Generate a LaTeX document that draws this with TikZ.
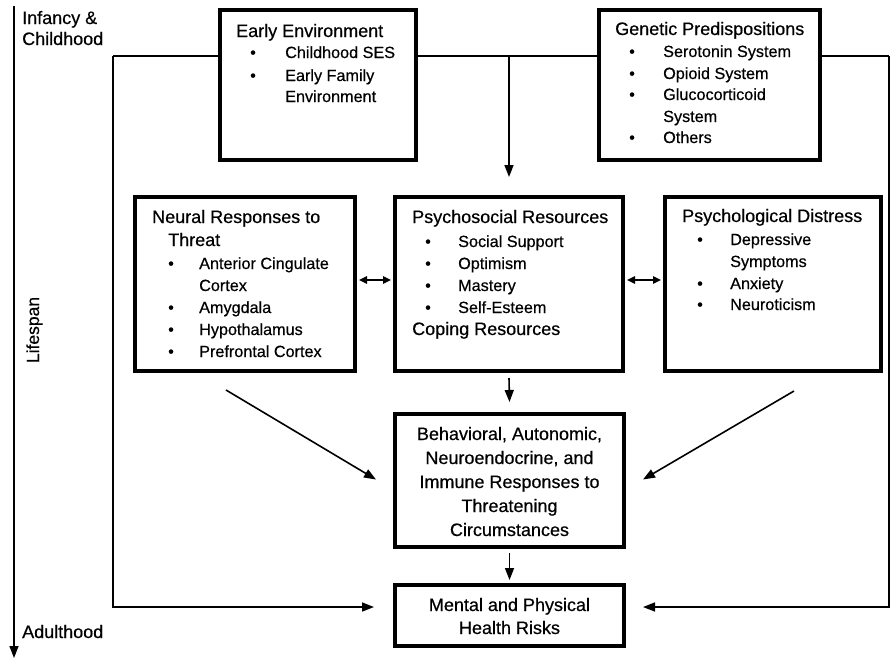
\documentclass[tikz,border=0pt]{standalone}
\usepackage{fontspec}
\setmainfont{Liberation Sans}[FakeBold=0.5]
\usetikzlibrary{arrows.meta}
\begin{document}
\begin{tikzpicture}[x=1pt,y=-1pt,
 box/.style={draw, line width=3.8pt, inner sep=0pt, outer sep=0pt, anchor=north west},
 hd/.style={inner sep=0pt, anchor=base west, font=\fontsize{18}{22}\selectfont},
 it/.style={inner sep=0pt, anchor=base west, font=\fontsize{16.2}{22}\selectfont},
 ct/.style={inner sep=0pt, anchor=base, font=\fontsize{18}{24}\selectfont},
 conn/.style={line width=1.6pt},
 arr/.style={conn, -{Triangle[length=12pt,width=9pt]}},
 darr/.style={conn, {Triangle[length=8pt,width=7.5pt]}-{Triangle[length=8pt,width=7.5pt]}}]
\useasboundingbox (0,0) rectangle (890,659);

% boxes
\node[box, minimum width=196pt, minimum height=150pt] (ee) at (220,10) {};
\node[box, minimum width=221pt, minimum height=150pt] (gp) at (599,10) {};
\node[box, minimum width=220pt, minimum height=174pt] (nr) at (135,197) {};
\node[box, minimum width=228pt, minimum height=174pt] (ps) at (395,197) {};
\node[box, minimum width=216pt, minimum height=174pt] (pd) at (665,197) {};
\node[box, minimum width=229pt, minimum height=133pt] (br) at (395,414) {};
\node[box, minimum width=229pt, minimum height=61pt] (mh) at (395,585) {};

% lifespan axis
\coordinate (ax0) at (14,6);
\coordinate (ax1) at (14,658);
\draw[arr] (ax0) -- (ax1);
\node[hd] (inf1) at (22,24) {Infancy \&};
\node[hd] (inf2) at (22,45) {Childhood};
\node[hd] (adu) at (22,638) {Adulthood};
\node[inner sep=0pt, anchor=base, rotate=90, font=\fontsize{17.5}{22}\selectfont] (life) at (39,330) {Lifespan};

% top line and loops
\coordinate (tl) at (113,56);
\coordinate (tr) at (889,56);
\coordinate (tm) at (509,56);
\coordinate (bl) at (113,607);
\coordinate (brr) at (889,607);
\draw[conn] (tl) -- (ee.west |- tl);
\draw[conn] (ee.east |- tl) -- (gp.west |- tl);
\draw[conn] (gp.east |- tl) -- (tr);
\draw[arr] (tm) -- ([yshift=20pt]ps.north);
\draw[arr] (tl) -- (bl) -- ([xshift=-21pt,yshift=8.5pt]mh.west);
\draw[arr] (tr) -- (brr) -- ([xshift=19pt,yshift=8.5pt]mh.east);

% middle connectors
\draw[darr] ([xshift=4pt,yshift=4pt]nr.east) -- ([xshift=-4pt,yshift=4pt]ps.west);
\draw[darr] ([xshift=4pt,yshift=4pt]ps.east) -- ([xshift=-4pt,yshift=4pt]pd.west);
\draw[arr] ([yshift=-7pt]ps.south) -- ([yshift=12pt]br.north);
\coordinate (dl) at (226,390);
\coordinate (dr) at (794,391);
\draw[arr] (dl) -- ([xshift=-19pt,yshift=1pt]br.west);
\draw[arr] (dr) -- ([xshift=19pt,yshift=1pt]br.east);
\draw[arr] ([yshift=-6pt]br.south) -- ([yshift=5pt]mh.north);

% Early Environment
\node[hd] (ee0) at (236,37) {Early Environment};
\node[it] (eeb1) at (250,58) {•};
\node[it] (ee1) at (285,58) {Childhood SES};
\node[it] (eeb2) at (250,81) {•};
\node[it] (ee2) at (285,81) {Early Family};
\node[it] (ee3) at (285,102) {Environment};

% Genetic Predispositions
\node[hd] (gp0) at (615,35) {Genetic Predispositions};
\node[it] (gpb1) at (629,57) {•};
\node[it] (gp1) at (663,57) {Serotonin System};
\node[it] (gpb2) at (629,79) {•};
\node[it] (gp2) at (663,79) {Opioid System};
\node[it] (gpb3) at (629,100) {•};
\node[it] (gp3) at (663,100) {Glucocorticoid};
\node[it] (gp4) at (663,122) {System};
\node[it] (gpb5) at (629,143) {•};
\node[it] (gp5) at (663,143) {Others};

% Neural Responses
\node[hd] (nr0) at (152,223) {Neural Responses to};
\node[hd] (nr0b) at (168,246) {Threat};
\node[it] (nrb1) at (168,269) {•};
\node[it] (nr1) at (199,269) {Anterior Cingulate};
\node[it] (nr2) at (199,291) {Cortex};
\node[it] (nrb3) at (168,313) {•};
\node[it] (nr3) at (199,313) {Amygdala};
\node[it] (nrb4) at (168,335) {•};
\node[it] (nr4) at (199,335) {Hypothalamus};
\node[it] (nrb5) at (168,357) {•};
\node[it] (nr5) at (199,357) {Prefrontal Cortex};

% Psychosocial Resources
\node[hd] (ps0) at (412,223) {Psychosocial Resources};
\node[it] (psb1) at (425,247) {•};
\node[it] (ps1) at (458,247) {Social Support};
\node[it] (psb2) at (425,269) {•};
\node[it] (ps2) at (458,269) {Optimism};
\node[it] (psb3) at (425,291) {•};
\node[it] (ps3) at (458,291) {Mastery};
\node[it] (psb4) at (425,313) {•};
\node[it] (ps4) at (458,313) {Self-Esteem};
\node[hd] (ps5) at (412,335) {Coping Resources};

% Psychological Distress
\node[hd] (pd0) at (682,222) {Psychological Distress};
\node[it] (pdb1) at (697,245) {•};
\node[it] (pd1) at (730,245) {Depressive};
\node[it] (pd2) at (730,267) {Symptoms};
\node[it] (pdb3) at (697,289) {•};
\node[it] (pd3) at (730,289) {Anxiety};
\node[it] (pdb4) at (697,310) {•};
\node[it] (pd4) at (730,310) {Neuroticism};

% Behavioral box
\node[ct] (b1) at (509.5,440) {Behavioral, Autonomic,};
\node[ct] (b2) at (509.5,464) {Neuroendocrine, and};
\node[ct] (b3) at (509.5,488) {Immune Responses to};
\node[ct] (b4) at (509.5,512) {Threatening};
\node[ct] (b5) at (509.5,536) {Circumstances};

% Mental box
\node[ct] (m1) at (509.5,611) {Mental and Physical};
\node[ct] (m2) at (509.5,634) {Health Risks};
\end{tikzpicture}
\end{document}
